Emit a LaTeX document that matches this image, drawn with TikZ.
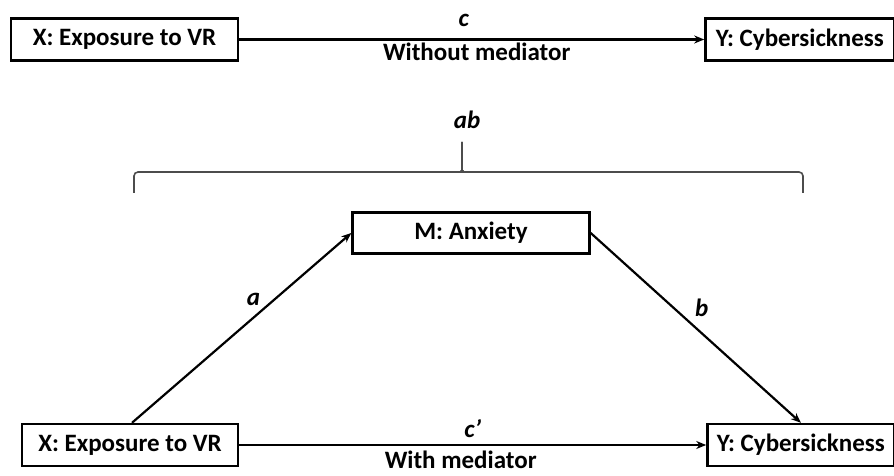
\documentclass[tikz,border=0pt]{standalone}
\usepackage{fontspec}
\setmainfont{Carlito}
\usepackage{tikz}
\usetikzlibrary{arrows.meta}
\usetikzlibrary{positioning}

\tikzset{
  var/.style={draw, line width=2.4pt, inner sep=0pt, minimum height=42pt,
    font=\fontsize{25}{30}\selectfont\bfseries},
  effect/.style={line width=2.2pt, -{Stealth[length=10pt,width=8pt]}},
  coef/.style={inner sep=1pt, font=\fontsize{25}{30}\selectfont\bfseries\itshape},
  note/.style={inner sep=1pt, font=\fontsize{25}{30}\selectfont\bfseries}
}

\begin{document}
\begin{tikzpicture}[x=1pt, y=1pt]

  \useasboundingbox (0,0) rectangle (894,476);

  % Define nodes
  \node[var, minimum width=227pt]                 (x1) at (124.5,436.5) {X: Exposure to VR};
  \node[var, minimum width=189pt, right=465pt of x1] (y1) {Y: Cybersickness};
  \node[var, minimum width=216pt]                 (x2) at (130,31) {X: Exposure to VR};
  \node[var, minimum width=187pt, right=467pt of x2] (y2) {Y: Cybersickness};
  \node[var, minimum width=237pt, minimum height=41pt] (m) at (471,243) {M: Anxiety};

  % Connect the nodes
  \draw[effect] (x1) -- node[coef, midway, above=10.5pt, xshift=-8pt] {c}
                      node[note, midway, below=1pt, xshift=5pt] {Without mediator} (y1);
  \draw[effect] (x2.north) ++(2pt,0) -- node[coef, pos=.6, above left=2pt] {a} (m.west);
  \draw[effect] (m.east) -- node[coef, pos=.47, above right=5pt] {b} (y2.north);
  \draw[effect] (x2) -- node[coef, midway, above=5pt] {c'}
                      node[note, midway, below=5pt, xshift=-12pt, inner sep=0pt] {With mediator} (y2);

  % Brace
  \coordinate (tip) at (462,334);
  \draw[line width=1.6pt, black!70, rounded corners=4pt]
    (134,283) |- (457,304) arc[start angle=-90, end angle=0, radius=5pt] -- (tip);
  \draw[line width=1.6pt, black!70, rounded corners=4pt]
    (tip) -- (462,309) arc[start angle=180, end angle=270, radius=5pt] -| (803,283);
  \node[coef, above=13pt of tip, xshift=5pt, inner sep=0pt] (ab) {ab};

\end{tikzpicture}
\end{document}
